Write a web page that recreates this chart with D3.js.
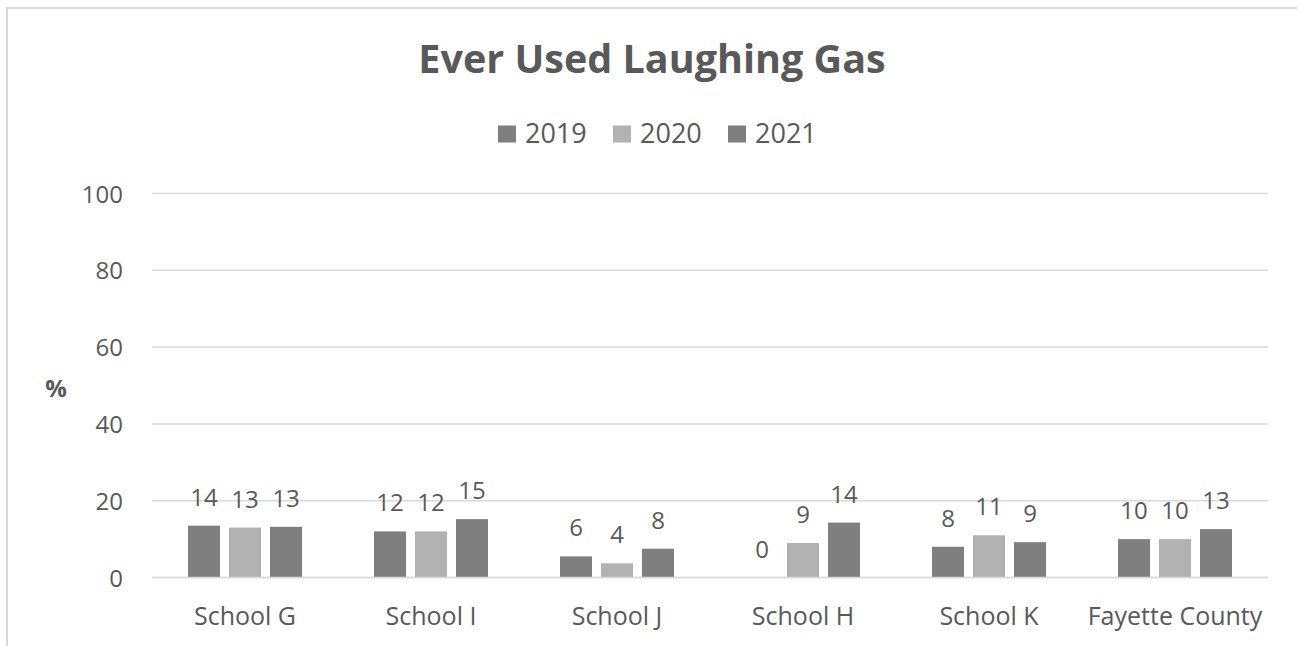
<!DOCTYPE html>
<html>
<head>
<meta charset="utf-8">
<script src="https://cdn.jsdelivr.net/npm/d3@7"></script>
<style>
  html, body { margin: 0; padding: 0; background: #fff; }
  svg { display: block; font-family: "Open Sans", sans-serif; }
</style>
</head>
<body>
<svg id="chart" width="1297" height="646"></svg>
<script>
const title = "Ever Used Laughing Gas";
const categories = ["School G", "School I", "School J", "School H", "School K", "Fayette County"];
const seriesNames = ["2019", "2020", "2021"];
const values2019 = [13.5, 12, 5.5, 0, 8, 10];
const values2020 = [13, 12, 3.7, 9, 11, 10];
const values2021 = [13.2, 15.2, 7.5, 14.3, 9.2, 12.6];
const yTicks = [0, 20, 40, 60, 80, 100];
const yLabel = "%";
const colors = ["#7f7f7f", "#b2b2b2", "#7f7f7f"];

const seriesValues = [values2019, values2020, values2021];
const textColor = "#595959";

const svg = d3.select("#chart");

// chart border (left + top visible)
svg.append("path")
  .attr("d", "M7,646 L7,8 L1297,8")
  .attr("fill", "none")
  .attr("stroke", "#d9d9d9")
  .attr("stroke-width", 2);

const plotLeft = 152, plotRight = 1268, plotTop = 193.5, plotBottom = 577.5;

const x = d3.scaleBand().domain(categories).range([plotLeft, plotRight]).paddingInner(0).paddingOuter(0);
const y = d3.scaleLinear().domain([0, 100]).range([plotBottom, plotTop]);

const barW = 32, barGap = 9;
const groupW = 3 * barW + 2 * barGap;
const xs = d3.scaleBand().domain(seriesNames)
  .range([0, groupW]).paddingInner(barGap / (barW + barGap)).paddingOuter(0);

// gridlines
svg.append("g").selectAll("line").data(yTicks).join("line")
  .attr("x1", plotLeft).attr("x2", plotRight)
  .attr("y1", d => y(d)).attr("y2", d => y(d))
  .attr("stroke", "#d9d9d9").attr("stroke-width", 1.5);

// y axis labels
const yAxis = d3.axisLeft(y).tickValues(yTicks).tickSize(0).tickPadding(0);
const yg = svg.append("g").attr("transform", "translate(123,0)").call(yAxis);
yg.select(".domain").remove();
yg.selectAll("text").attr("fill", textColor).attr("font-size", 24)
  .attr("font-family", "Open Sans, sans-serif").attr("dy", "0.36em");

// y title
svg.append("text").attr("x", 56).attr("y", 388).attr("dy", "0.36em")
  .attr("text-anchor", "middle").attr("font-weight", "bold").attr("font-size", 24)
  .attr("fill", textColor).text(yLabel);

// bars
const groups = svg.append("g").selectAll("g").data(categories).join("g")
  .attr("transform", c => `translate(${x(c) + x.bandwidth() / 2 - groupW / 2},0)`);

seriesNames.forEach((s, si) => {
  groups.append("rect")
    .attr("x", xs(s))
    .attr("width", xs.bandwidth())
    .attr("y", (c, i) => y(seriesValues[si][i]))
    .attr("height", (c, i) => y(0) - y(seriesValues[si][i]))
    .attr("fill", colors[si]);
  groups.append("text")
    .attr("x", xs(s) + xs.bandwidth() / 2)
    .attr("y", (c, i) => y(seriesValues[si][i]) - 20)
    .attr("text-anchor", "middle")
    .attr("font-size", 24)
    .attr("fill", textColor)
    .text((c, i) => d3.format(".0f")(seriesValues[si][i]));
});

// zero axis line on top
svg.append("line").attr("x1", plotLeft).attr("x2", plotRight)
  .attr("y1", y(0)).attr("y2", y(0)).attr("stroke", "#d9d9d9").attr("stroke-width", 1.5);

// x axis labels
const xAxis = d3.axisBottom(x).tickSize(0).tickPadding(0);
const xg = svg.append("g").attr("transform", "translate(0,625)").call(xAxis);
xg.select(".domain").remove();
xg.selectAll("text").attr("fill", textColor).attr("font-size", 25)
  .attr("font-family", "Open Sans, sans-serif").attr("dy", 0);

// title
svg.append("text").attr("x", 652).attr("y", 73)
  .attr("text-anchor", "middle").attr("font-weight", "bold").attr("font-size", 39.5)
  .attr("fill", textColor).text(title);

// legend
const legendX = [498, 613, 728];
const lg = svg.append("g");
seriesNames.forEach((s, i) => {
  lg.append("rect").attr("x", legendX[i]).attr("y", 125.5).attr("width", 18).attr("height", 17)
    .attr("fill", colors[i]);
  lg.append("text").attr("x", legendX[i] + 27).attr("y", 143)
    .attr("font-size", 27).attr("fill", textColor).text(s);
});
</script>
</body>
</html>
